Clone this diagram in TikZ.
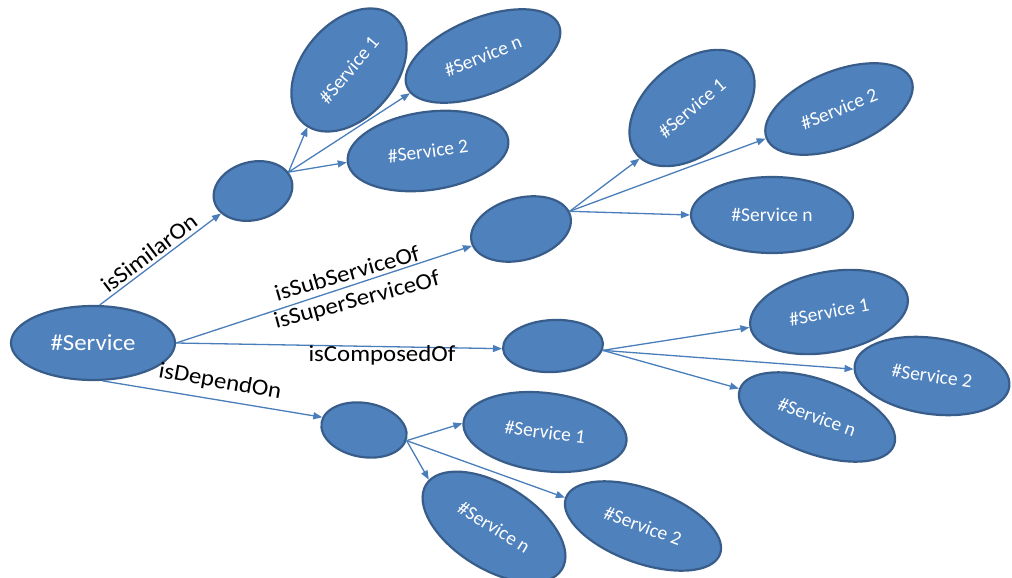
\documentclass[tikz,border=0pt]{standalone}
\usepackage{fontspec}
\setmainfont{Carlito}
\newfontfamily\labelfont{Carlito}[FakeStretch=1.08]
\usetikzlibrary{shapes.geometric,arrows.meta}
\definecolor{ellfill}{HTML}{4F81BD}
\definecolor{ellline}{HTML}{385D8A}
\definecolor{arrowblue}{HTML}{4A7EBB}

\begin{document}
\begin{tikzpicture}[x=1pt,y=-1pt,
  svc/.style={ellipse, draw=ellline, line width=2.2pt, fill=ellfill, inner sep=0pt,
              text=white, font=\fontsize{19.5}{22}\selectfont},
  hub/.style={svc},
  link/.style={draw=arrowblue, line width=1.3pt, -{Triangle[length=9pt,width=7pt]}},
  rel/.style={font=\labelfont\fontsize{23}{26}\selectfont, text=black, inner sep=0pt}
]
\useasboundingbox (0,0) rectangle (1012,578);

% root service
\node[svc, minimum width=164pt, minimum height=74pt,
      font=\labelfont\fontsize{23}{26}\selectfont] (root) at (93,343) {\#Service};

% relation hubs
\node[hub, minimum width=80pt,  minimum height=58pt, rotate=15]  (m1) at (253,191) {};
\node[hub, minimum width=102pt, minimum height=62pt, rotate=15]  (m2) at (521,229) {};
\node[hub, minimum width=100pt, minimum height=52pt, rotate=3]   (m3) at (553,346) {};
\node[hub, minimum width=86pt,  minimum height=54pt, rotate=-10] (m4) at (364,430) {};

% isSimilarOn targets
\node[svc, minimum width=140pt, minimum height=94pt, rotate=50] (a1) at (349,70)  {\#Service 1};
\node[svc, minimum width=164pt, minimum height=76pt, rotate=22] (a2) at (483,56)  {\#Service n};
\node[svc, minimum width=162pt, minimum height=78pt, rotate=8]  (a3) at (428,151) {\#Service 2};

% isSubServiceOf / isSuperServiceOf targets
\node[svc, minimum width=144pt, minimum height=92pt, rotate=40] (b1) at (692,108) {\#Service 1};
\node[svc, minimum width=156pt, minimum height=76pt, rotate=22] (b2) at (839,109) {\#Service 2};
\node[svc, minimum width=162pt, minimum height=76pt]            (b3) at (772,215) {\#Service n};

% isComposedOf targets
\node[svc, minimum width=160pt, minimum height=80pt, rotate=11]  (c1) at (829,312) {\#Service 1};
\node[svc, minimum width=156pt, minimum height=76pt, rotate=-8]  (c2) at (932,376) {\#Service 2};
\node[svc, minimum width=164pt, minimum height=74pt, rotate=-20] (c3) at (817,417) {\#Service n};

% isDependOn targets
\node[svc, minimum width=164pt, minimum height=78pt, rotate=-7]  (d1) at (545,432) {\#Service 1};
\node[svc, minimum width=164pt, minimum height=74pt, rotate=-20] (d2) at (643,526) {\#Service 2};
\node[svc, minimum width=160pt, minimum height=84pt, rotate=-32] (d3) at (494,527) {\#Service n};

% connectors from the root service
\draw[link] (root.80)   -- (m1.200);
\draw[link] (root.east) -- (m2.184);
\draw[link] (root.east) -- (m3.west);
\draw[link] (root.284)  -- (m4.173);

% connectors from the hubs
\draw[link] (m1.13) -- (a1.184);
\draw[link] (m1.13) -- (a2.185);
\draw[link] (m1.13) -- (a3.west);

\draw[link] (m2.5) -- (b1.184);
\draw[link] (m2.5) -- (b2.west);
\draw[link] (m2.5) -- (b3.west);

\draw[link] (m3.352) -- (c1.west);
\draw[link] (m3.352) -- (c2.183);
\draw[link] (m3.352) -- (c3.west);

\draw[link] (m4.356) -- (d1.181);
\draw[link] (m4.356) -- (d2.west);
\draw[link] (m4.356) -- (d3.176);

% relation labels
\node[rel, rotate=37]  (lsim)  at (149,253) {isSimilarOn};
\node[rel, rotate=16]  (lsub)  at (347,273) {isSubServiceOf};
\node[rel, rotate=15]  (lsup)  at (357,301) {isSuperServiceOf};
\node[rel]             (lcomp) at (382,355) {isComposedOf};
\node[rel, rotate=-10] (ldep)  at (220,382) {isDependOn};
\end{tikzpicture}
\end{document}
